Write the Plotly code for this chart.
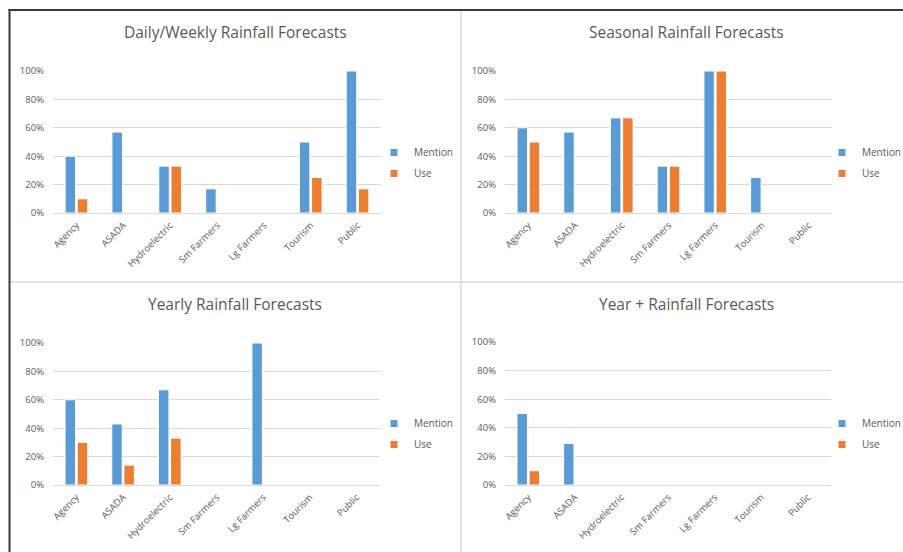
import plotly.graph_objects as go

W, H = 903, 552

categories = ["Agency", "ASADA", "Hydroelectric", "Sm Farmers", "Lg Farmers", "Tourism", "Public"]

titles = ["Daily/Weekly Rainfall Forecasts", "Seasonal Rainfall Forecasts",
          "Yearly Rainfall Forecasts", "Year + Rainfall Forecasts"]

daily_mention = [0.40, 0.57, 0.33, 0.17, 0.0, 0.50, 1.00]
daily_use = [0.10, 0.0, 0.33, 0.0, 0.0, 0.25, 0.17]

seasonal_mention = [0.60, 0.57, 0.67, 0.33, 1.00, 0.25, 0.0]
seasonal_use = [0.50, 0.0, 0.67, 0.33, 1.00, 0.0, 0.0]

yearly_mention = [0.60, 0.43, 0.67, 0.0, 1.00, 0.0, 0.0]
yearly_use = [0.30, 0.14, 0.33, 0.0, 0.0, 0.0, 0.0]

yearplus_mention = [0.50, 0.29, 0.0, 0.0, 0.0, 0.0, 0.0]
yearplus_use = [0.10, 0.0, 0.0, 0.0, 0.0, 0.0, 0.0]

series = [(daily_mention, daily_use), (seasonal_mention, seasonal_use),
          (yearly_mention, yearly_use), (yearplus_mention, yearplus_use)]

BLUE = "#5B9BD5"
ORANGE = "#ED7D31"
GRAY_TXT = "#595959"
GRID = "#D9D9D9"
FONT = "Open Sans"

# plot areas in pixels: (x0, x1, ytop, ybottom)
areas = [(53, 381, 71, 213), (505, 832, 71, 213), (53, 380, 343, 485), (505, 831, 342, 485)]
legend_pos = [(374, 163), (822, 163), (374, 434), (822, 434)]
title_pos = [(235, 32), (686, 32), (235, 304), (686, 304)]

def px(x):
    return x / W

def py(y):
    return 1 - y / H

fig = go.Figure()
layout = dict(
    width=W, height=H, margin=dict(l=0, r=0, t=0, b=0, pad=0, autoexpand=False),
    paper_bgcolor="white", plot_bgcolor="white",
    barmode="group", bargap=0.48, bargroupgap=0.14,
    font=dict(family=FONT, color=GRAY_TXT, size=9),
)

annotations = []
for i, (m, u) in enumerate(series):
    n = "" if i == 0 else str(i + 1)
    xa, ya = "x" + n, "y" + n
    lg = "legend" + n
    fig.add_trace(go.Bar(x=categories, y=m, name="Mention", marker=dict(color=BLUE, line=dict(color="white", width=1)),
                         xaxis=xa, yaxis=ya, showlegend=False))
    fig.add_trace(go.Bar(x=categories, y=u, name="Use", marker=dict(color=ORANGE, line=dict(color="white", width=1)),
                         xaxis=xa, yaxis=ya, showlegend=False))
    # legend entries
    fig.add_trace(go.Scatter(x=[None], y=[None], mode="markers", name="Mention", legend=lg, legendgroup="m" + n,
                             marker=dict(symbol="square", size=7, color=BLUE), xaxis=xa, yaxis=ya))
    fig.add_trace(go.Scatter(x=[None], y=[None], mode="markers", name="Use", legend=lg, legendgroup="u" + n,
                             marker=dict(symbol="square", size=7, color=ORANGE), xaxis=xa, yaxis=ya))
    x0, x1, yt, yb = areas[i]
    layout["xaxis" + n] = dict(domain=[px(x0), px(x1)], anchor=ya, tickangle=-45, showgrid=False,
                               showline=False, ticks="", tickfont=dict(size=9.5, color=GRAY_TXT),
                               ticklabelstandoff=4, automargin=False, fixedrange=True)
    layout["yaxis" + n] = dict(domain=[py(yb), py(yt)], anchor=xa, range=[0, 1], dtick=0.2,
                               tickformat=".0%", showgrid=True, gridcolor=GRID, gridwidth=1,
                               zeroline=True, zerolinecolor=GRID, zerolinewidth=1, showline=False,
                               ticks="", tickfont=dict(size=9.5, color=GRAY_TXT), ticklabelstandoff=8,
                               automargin=False, fixedrange=True)
    lx, ly = legend_pos[i]
    layout[lg] = dict(x=px(lx), y=py(ly), xanchor="left", yanchor="middle", bgcolor="rgba(0,0,0,0)",
                      font=dict(size=10, color=GRAY_TXT, family=FONT), tracegroupgap=2,
                      itemwidth=30)
    tx, ty = title_pos[i]
    annotations.append(dict(text=titles[i], x=px(tx), y=py(ty), xref="paper", yref="paper",
                            showarrow=False, xanchor="center", yanchor="middle",
                            font=dict(size=15.5, color=GRAY_TXT, family=FONT)))

shapes = [
    dict(type="line", xref="paper", yref="paper", x0=px(10), x1=1, y0=py(282), y1=py(282),
         line=dict(color=GRID, width=1.5)),
    dict(type="line", xref="paper", yref="paper", x0=px(461), x1=px(461), y0=py(11), y1=0,
         line=dict(color=GRID, width=1.5)),
    dict(type="line", xref="paper", yref="paper", x0=px(8.5), x1=1, y0=py(10), y1=py(10),
         line=dict(color="#3a3a3a", width=2)),
    dict(type="line", xref="paper", yref="paper", x0=px(9.5), x1=px(9.5), y0=py(9), y1=0,
         line=dict(color="#3a3a3a", width=2)),
]
layout["annotations"] = annotations
layout["shapes"] = shapes
fig.update_layout(**layout)
fig.write_html("out.html")
